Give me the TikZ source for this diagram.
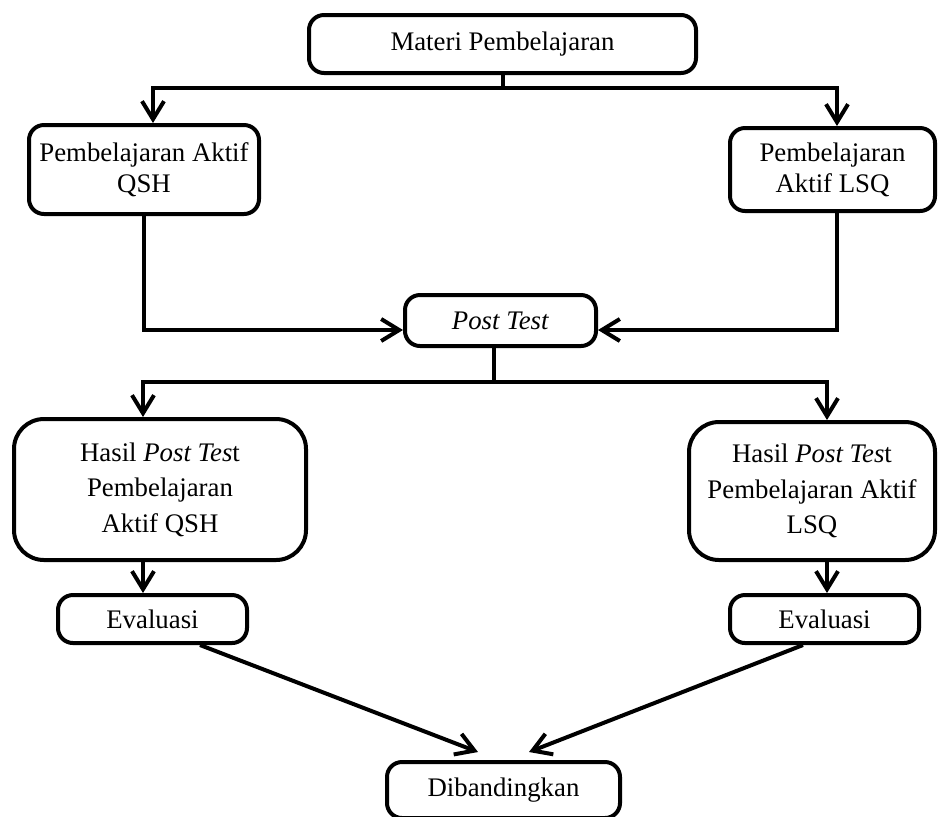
\documentclass[tikz,border=0pt]{standalone}
\usepackage{fontspec}
\setmainfont{Liberation Serif}
\usepackage{tikz}
\usetikzlibrary{positioning}
\usetikzlibrary{calc,arrows.meta}

\begin{document}
\begin{tikzpicture}[x=0.5pt,y=-0.5pt,
	box/.style={draw=black,line width=2pt,rounded corners=7.5pt,align=center,font=\fontsize{13.4}{15.5}\selectfont},
	bigbox/.style={box,rounded corners=15pt,font=\fontsize{13.4}{17.7}\selectfont},
	arr/.style={line width=2pt,-{Straight Barb[length=9pt,width=11pt,line width=2pt]}}]
			\useasboundingbox (0,0) rectangle (940,816);
			\draw (502.5,44) node[box,minimum width=193.5pt,minimum height=29pt,name=materi]{Materi Pembelajaran};
			\draw (144,169.5) node[box,minimum width=115pt,minimum height=44.5pt,name=qsh]{Pembelajaran Aktif\\QSH};
			\draw (832.5,169.5) node[box,minimum width=102.5pt,minimum height=41.5pt,name=lsq]{Pembelajaran\\Aktif LSQ};
			\draw (500.5,320.5) node[box,minimum width=95.5pt,minimum height=25.5pt,name=post]{\textit{Post Test}};
			\draw (160,489.5) node[bigbox,minimum width=146pt,minimum height=70.5pt,name=hqsh]{Hasil \textit{Post Tes}t\\Pembelajaran\\Aktif QSH};
			\draw (812,491) node[bigbox,minimum width=123pt,minimum height=69pt,name=hlsq]{Hasil \textit{Post Tes}t\\Pembelajaran Aktif\\LSQ};
			\draw (152.5,619) node[box,minimum width=94.5pt,minimum height=24pt,name=evq]{Evaluasi};
			\draw (824.5,619) node[box,minimum width=94.5pt,minimum height=24pt,name=evl]{Evaluasi};
			\draw (503.5,790) node[box,minimum width=116.5pt,minimum height=28pt,name=banding]{Dibandingkan};
			\draw[line width=2pt] (materi.south) -- ++(0,13) coordinate (msplit);
			\draw[arr] (msplit) -| ($(qsh.north)+(9,0)$);
			\draw[arr] (msplit) -| ($(lsq.north)+(4.5,0)$);
			\draw[arr] (qsh.south) |- ($(post.west)+(0,9.5)$);
			\draw[arr] ($(lsq.south)+(4.5,0)$) |- ($(post.east)+(0,9.5)$);
			\draw[line width=2pt] ($(post.south)+(-6.5,0)$) -- ++(0,34) coordinate (psplit);
			\draw[arr] (psplit) -| ($(hqsh.north)+(-17,0)$);
			\draw[arr] (psplit) -| ($(hlsq.north)+(15,0)$);
			\draw[arr] ($(hqsh.south)+(-17,0)$) -- ($(evq.north)+(-9.5,0)$);
			\draw[arr] ($(hlsq.south)+(15,0)$) -- ($(evl.north)+(2.5,0)$);
			\draw[arr] ($(evq.south)+(47.5,0)$) -- ($(banding.north)+(-25.5,-8)$);
			\draw[arr] ($(evl.south)+(-21.5,0)$) -- ($(banding.north)+(25.5,-8)$);
		\end{tikzpicture}
\end{document}
